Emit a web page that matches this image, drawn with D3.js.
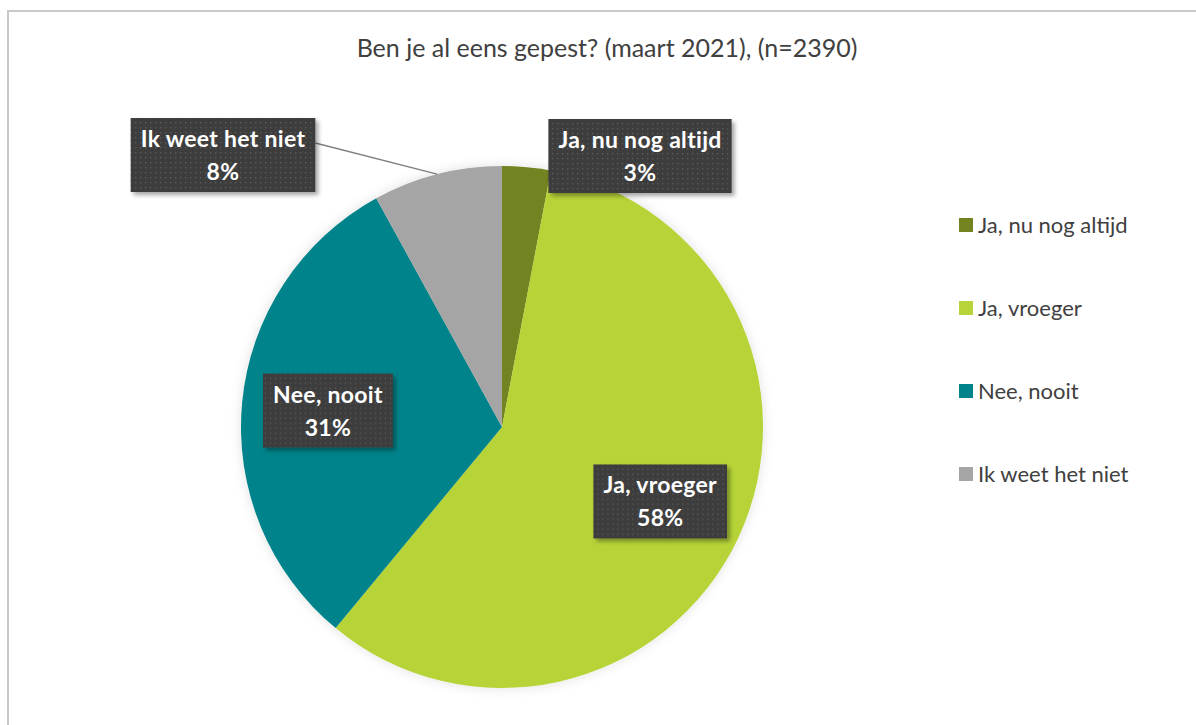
<!DOCTYPE html>
<html>
<head>
<meta charset="utf-8">
<script src="https://cdn.jsdelivr.net/npm/d3@7"></script>
<style>
  body { margin: 0; background: #fff; }
  svg text { font-family: "Source Sans Pro", Lato, "Noto Sans", sans-serif; }
</style>
</head>
<body>
<div id="container"></div>
<script>
/** DATA */
const categories = ["Ja, nu nog altijd", "Ja, vroeger", "Nee, nooit", "Ik weet het niet"];
const percentages = [3, 58, 31, 8];
const colors = ["#728320", "#b6d437", "#00838a", "#a5a5a5"];
const title = "Ben je al eens gepest? (maart 2021), (n=2390)";

/** LAYOUT */
const width = 1196, height = 725;
const cx = 502, cy = 427, radius = 261;

const data = categories.map((c, i) => ({ name: c, value: percentages[i], color: colors[i] }));

const svg = d3.select("#container").append("svg")
  .attr("width", width)
  .attr("height", height);

const defs = svg.append("defs");

// dotted texture for the label boxes
const pat = defs.append("pattern")
  .attr("id", "dots")
  .attr("width", 5).attr("height", 5)
  .attr("patternUnits", "userSpaceOnUse");
pat.append("rect").attr("width", 5).attr("height", 5).attr("fill", "#3d3d3d");
pat.append("rect").attr("x", 2).attr("y", 2).attr("width", 1.3).attr("height", 1.3).attr("fill", "#5a5a5a");

const boxShadow = defs.append("filter").attr("id", "boxShadow")
  .attr("x", "-20%").attr("y", "-20%").attr("width", "140%").attr("height", "150%");
boxShadow.append("feDropShadow")
  .attr("dx", 3).attr("dy", 3).attr("stdDeviation", 2)
  .attr("flood-color", "#000").attr("flood-opacity", 0.35);

const pieShadow = defs.append("filter").attr("id", "pieShadow")
  .attr("x", "-10%").attr("y", "-10%").attr("width", "120%").attr("height", "120%");
pieShadow.append("feDropShadow")
  .attr("dx", 0).attr("dy", 0).attr("stdDeviation", 6)
  .attr("flood-color", "#000").attr("flood-opacity", 0.12);

// chart border
svg.append("rect")
  .attr("x", 8).attr("y", 11)
  .attr("width", width + 10).attr("height", height + 10)
  .attr("fill", "none")
  .attr("stroke", "#c9c9c9")
  .attr("stroke-width", 2);

// title
svg.append("text")
  .attr("x", 607).attr("y", 57)
  .attr("text-anchor", "middle")
  .attr("font-size", 25)
  .attr("fill", "#404040")
  .text(title);

// pie
const pie = d3.pie().value(d => d.value).sort(null);
const arcs = pie(data);
const arc = d3.arc().innerRadius(0).outerRadius(radius);

const g = svg.append("g").attr("transform", `translate(${cx},${cy})`);
g.append("g").attr("filter", "url(#pieShadow)")
  .selectAll("path")
  .data(arcs)
  .join("path")
  .attr("d", arc)
  .attr("fill", d => d.data.color);

// label positions: inside slices for the big ones, outside for the small ones
const labelArc = d3.arc().innerRadius(radius * 0.67).outerRadius(radius * 0.67);
const outerOffsets = [[138, -271], null, null, [-279, -272]];

const labels = arcs.map((a, i) => {
  let x, y;
  if (outerOffsets[i]) {
    [x, y] = outerOffsets[i];
  } else {
    [x, y] = labelArc.centroid(a);
  }
  return { a, x, y, outside: !!outerOffsets[i] };
});

// leader line for the grey slice
const grey = labels[3];
const edge = d3.arc().innerRadius(radius).outerRadius(radius).centroid(grey.a);

const lab = g.selectAll(".lab")
  .data(labels)
  .join("g")
  .attr("class", "lab")
  .attr("transform", d => `translate(${d.x},${d.y})`);

lab.each(function(d) {
  const sel = d3.select(this);
  const t = sel.append("text")
    .attr("text-anchor", "middle")
    .attr("font-size", 23)
    .attr("font-weight", "bold")
    .attr("letter-spacing", 0.3)
    .attr("fill", "#fff");
  t.append("tspan").attr("x", 0).attr("y", -8).text(d.a.data.name);
  t.append("tspan").attr("x", 0).attr("y", 25).text(d.a.data.value + "%");
  const w = t.node().getBBox().width;
  const bw = w + 20, bh = 74;
  d.bw = bw;
  sel.insert("rect", "text")
    .attr("x", -bw / 2).attr("y", -bh / 2)
    .attr("width", bw).attr("height", bh)
    .attr("fill", "url(#dots)")
    .attr("filter", "url(#boxShadow)");
});

g.insert("line", ".lab")
  .attr("x1", grey.x + grey.bw / 2).attr("y1", grey.y - 12)
  .attr("x2", edge[0]).attr("y2", edge[1])
  .attr("stroke", "#7f7f7f")
  .attr("stroke-width", 1.3);

// legend
const legend = svg.append("g").attr("transform", "translate(959,225)");
const item = legend.selectAll("g")
  .data(data)
  .join("g")
  .attr("transform", (d, i) => `translate(0,${i * 83})`);
item.append("rect")
  .attr("x", 0).attr("y", -7)
  .attr("width", 14).attr("height", 14)
  .attr("fill", d => d.color);
item.append("text")
  .attr("x", 19).attr("y", 7.5)
  .attr("font-size", 22)
  .attr("fill", "#404040")
  .text(d => d.name);
</script>
</body>
</html>
